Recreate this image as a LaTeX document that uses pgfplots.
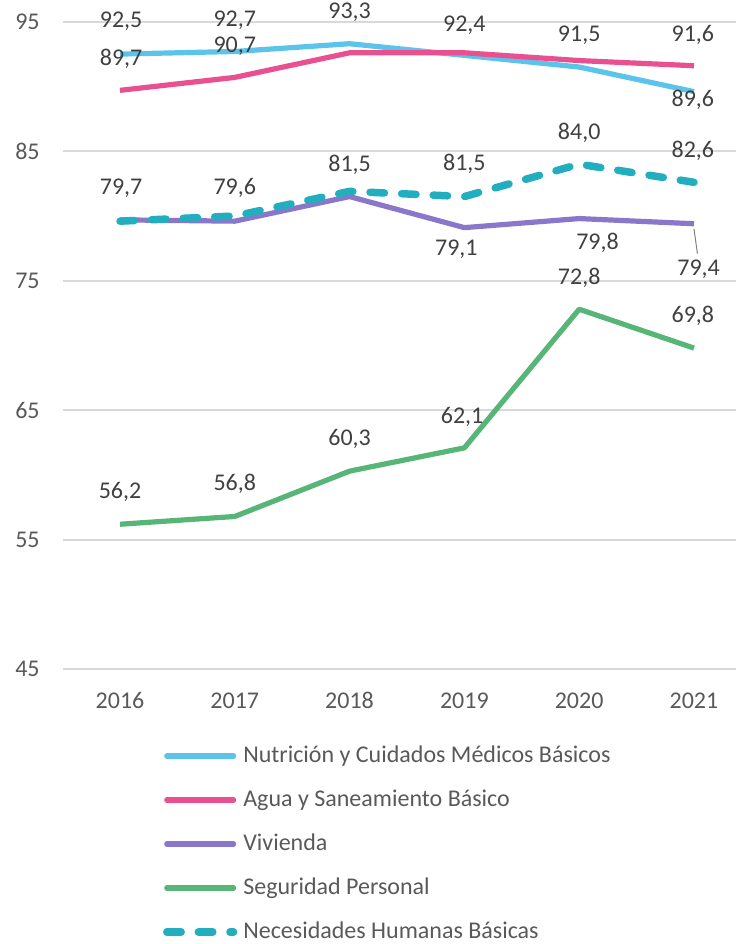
\documentclass[border=0pt]{standalone}
\usepackage{fontspec}
\setmainfont{Carlito}
\usepackage{pgfplots}
\pgfplotsset{compat=1.18}
\usetikzlibrary{calc}

\definecolor{cNut}{HTML}{5CC3EB}
\definecolor{cAgua}{HTML}{E8508F}
\definecolor{cViv}{HTML}{8B77C9}
\definecolor{cSeg}{HTML}{57B677}
\definecolor{cNec}{HTML}{23AEBF}
\definecolor{txt}{HTML}{404040}
\definecolor{tickc}{HTML}{595959}
\definecolor{gridc}{HTML}{D9D9D9}

\newcommand{\lbl}{\fontsize{12}{14}\selectfont}

\begin{document}
\begin{tikzpicture}
\begin{axis}[
  name=ax,
  at={(0,0)}, anchor=south west,
  scale only axis,
  clip=false,
  width=344.4pt, height=323.8pt,
  xmin=2015.5, xmax=2021.5,
  ymin=45, ymax=95,
  ytick={45,55,...,95},
  xtick={2016,...,2021},
  axis line style={draw=none},
  major tick length=0pt,
  ymajorgrids,
  grid style={gridc, line width=1pt},
  /pgf/number format/assume math mode=true,
  ticklabel style={font=\lbl, text=tickc, inner sep=0pt},
  x tick label style={/pgf/number format/1000 sep={}, anchor=center, yshift=-15.5pt},
  y tick label style={anchor=east, xshift=-11.3pt},
  legend style={at={(axis description cs:0.1458,-0.1184)}, anchor=north west,
    draw=none, fill=none, inner sep=0pt, outer sep=0pt,
    row sep=12pt, column sep=3pt, font=\lbl, text=tickc,
    nodes={inner sep=0pt, text height=8.5pt, text depth=1.5pt}},
  legend cell align=left,
  legend image code/.code={\draw[#1, line cap=round] (1.8pt,0pt) -- (35.2pt,0pt);},
  every axis plot/.append style={line width=2.6pt, line join=round},
]
\addplot[cNut] coordinates {(2016,92.5) (2017,92.7) (2018,93.3) (2019,92.4) (2020,91.5) (2021,89.6)};
\addlegendentry{Nutrición y Cuidados Médicos Básicos}
\addplot[cAgua] coordinates {(2016,89.7) (2017,90.7) (2018,92.6) (2019,92.6) (2020,92.0) (2021,91.6)};
\addlegendentry{Agua y Saneamiento Básico}
\addplot[cViv] coordinates {(2016,79.7) (2017,79.6) (2018,81.5) (2019,79.1) (2020,79.8) (2021,79.4)};
\addlegendentry{Vivienda}
\addplot[cSeg] coordinates {(2016,56.2) (2017,56.8) (2018,60.3) (2019,62.1) (2020,72.8) (2021,69.8)};
\addlegendentry{Seguridad Personal}
\addplot[cNec, line width=3.75pt, line cap=round, dash pattern=on 7.2pt off 8.6pt] coordinates {(2016,79.6) (2017,80.0) (2018,81.9) (2019,81.5) (2020,84.0) (2021,82.6)};
\addlegendentry{Necesidades Humanas Básicas}

% data labels
\begin{scope}[every node/.style={font=\lbl, text=txt, inner sep=0pt, anchor=center}]
\node at (axis cs:2016.01,95.0) {92,5};
\node at (axis cs:2016.01,92.17) {89,7};
\node at (axis cs:2017.0,95.13) {92,7};
\node at (axis cs:2017.0,93.07) {90,7};
\node at (axis cs:2018.0,95.7) {93,3};
\node at (axis cs:2019.0,94.75) {92,4};
\node at (axis cs:2020.0,93.97) {91,5};
\node at (axis cs:2020.99,93.97) {91,6};
\node at (axis cs:2020.99,89.0) {89,6};
\node at (axis cs:2016.01,82.13) {79,7};
\node at (axis cs:2017.0,82.15) {79,6};
\node at (axis cs:2018.0,83.93) {81,5};
\node at (axis cs:2019.0,83.99) {81,5};
\node at (axis cs:2020.0,86.4) {84,0};
\node at (axis cs:2020.99,85.04) {82,6};
\node at (axis cs:2018.93,77.42) {79,1};
\node at (axis cs:2020.16,77.89) {79,8};
\node at (axis cs:2021.04,75.88) {79,4};
\node at (axis cs:2020.0,75.23) {72,8};
\node at (axis cs:2020.99,72.27) {69,8};
\node at (axis cs:2016.0,58.68) {56,2};
\node at (axis cs:2017.0,59.3) {56,8};
\node at (axis cs:2018.0,62.8) {60,3};
\node at (axis cs:2018.98,64.52) {62,1};
\end{scope}
\draw[gray, line width=0.5pt] (axis cs:2021.0,79.0) -- (axis cs:2021.03,77.1);
\end{axis}
\pgfresetboundingbox
\path[use as bounding box] ($(ax.south west)+(-31.3pt,-137.35pt)$) rectangle ($(ax.south west)+(336.2pt,334.65pt)$);
\end{tikzpicture}
\end{document}
